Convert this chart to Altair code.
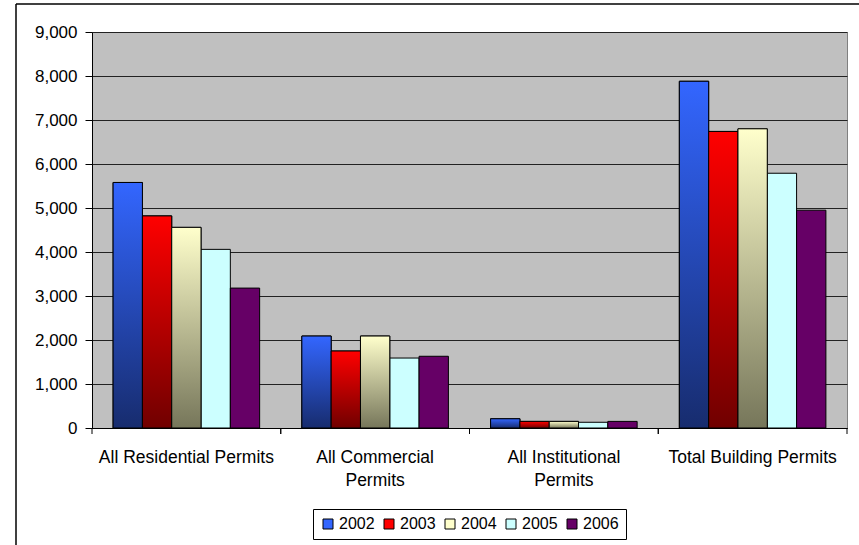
import altair as alt
import pandas as pd

# Building permits issued, by permit type and year
categories = ["All Residential Permits", "All Commercial Permits",
              "All Institutional Permits", "Total Building Permits"]
years = ["2002", "2003", "2004", "2005", "2006"]
residential = [5580, 4820, 4560, 4060, 3180]
commercial = [2090, 1750, 2090, 1590, 1630]
institutional = [210, 150, 150, 130, 150]
total = [7880, 6740, 6800, 5790, 4950]

# Two-line versions of the longer category labels
wrapped = {
    "All Commercial Permits": ["All Commercial", "Permits"],
    "All Institutional Permits": ["All Institutional", "Permits"],
}

# Fill of each series: top colour and bottom colour of the vertical gradient
top_colors = ["#3366FF", "#FF0000", "#FFFFCC", "#CCFFFF", "#660066"]
bottom_colors = ["#172C6E", "#700000", "#76765A", "#CCFFFF", "#660066"]

series = [residential, commercial, institutional, total]
df = pd.DataFrame(
    [{"category": c, "year": y, "permits": vals[i]}
     for c, vals in zip(categories, series)
     for i, y in enumerate(years)]
)

W, H = 755, 396
FONT = "Liberation Sans"

label_expr = " : ".join(
    f"datum.label == '{k}' ? {v!r}" for k, v in wrapped.items()
) + " : datum.label"

x_axis = alt.Axis(
    title=None, labelAngle=0, ticks=False, domainColor="black",
    labelFont=FONT, labelFontSize=17.5, labelColor="black",
    labelPadding=20, labelLineHeight=23, labelExpr=label_expr,
    labelBaseline="top",
)
x_scale = alt.Scale(paddingInner=0, paddingOuter=0)


def x_enc(band_pos=None):
    kw = {} if band_pos is None else {"bandPosition": band_pos}
    return alt.X("category:N", sort=categories, scale=x_scale, axis=x_axis, **kw)


x_off = alt.XOffset("year:N", sort=years,
                    scale=alt.Scale(domain=years, paddingInner=0, paddingOuter=0.72))
y_enc = alt.Y(
    "permits:Q",
    scale=alt.Scale(domain=[0, 9000], nice=False),
    axis=alt.Axis(
        title=None, values=list(range(0, 9001, 1000)), format=",d",
        tickSize=7, tickColor="black", domainColor="black",
        labelFont=FONT, labelFontSize=17, labelColor="black", labelPadding=8,
        gridColor="#222222", gridWidth=1,
    ),
)

base = alt.Chart(df)

bars = base.mark_bar(stroke="black", strokeWidth=1).encode(
    x=x_enc(), xOffset=x_off, y=y_enc,
    color=alt.Color(
        "year:N", sort=years,
        scale=alt.Scale(domain=years, range=top_colors),
        legend=alt.Legend(
            title=None, orient="none", direction="horizontal",
            legendX=221, legendY=477,
            symbolType="square", symbolSize=100, symbolStrokeColor="black",
            symbolStrokeWidth=1, symbolOpacity=1,
            labelFont=FONT, labelFontSize=16, labelColor="black",
            labelOffset=3, columnPadding=6,
            strokeColor="black", fillColor="white", padding=7,
        ),
    ),
)

layers = [bars]
for yr, c_top, c_bot in zip(years, top_colors, bottom_colors):
    if c_top == c_bot:
        continue
    gradient = {
        "gradient": "linear", "x1": 0, "y1": 0, "x2": 0, "y2": 1,
        "stops": [{"offset": 0, "color": c_top}, {"offset": 1, "color": c_bot}],
    }
    layers.append(
        base.transform_filter(alt.datum.year == yr)
        .mark_bar(stroke="black", strokeWidth=1, fill=gradient)
        .encode(x=x_enc(), xOffset=x_off, y=y_enc)
    )

# Category-axis ticks sit on the boundaries between groups
cat_df = pd.DataFrame({"category": categories})
for bp in (0, 1):
    layers.append(
        alt.Chart(cat_df).mark_rule(color="black", strokeWidth=1).encode(
            x=x_enc(bp), y=alt.value(H), y2=alt.value(H + 6)
        )
    )

# Outer chart frame (top and left edges)
frame_data = alt.Data(values=[{}])
layers.append(
    alt.Chart(frame_data).mark_rule(color="black", strokeWidth=1.5).encode(
        x=alt.value(-76), x2=alt.value(W + 40), y=alt.value(-28)
    )
)
layers.append(
    alt.Chart(frame_data).mark_rule(color="black", strokeWidth=1.5).encode(
        x=alt.value(-76), y=alt.value(-28), y2=alt.value(H + 150)
    )
)

chart = (
    alt.layer(*layers)
    .properties(
        width=W, height=H,
        background="white",
        autosize=alt.AutoSizeParams(type="none"),
        padding={"left": 92, "top": 32, "right": 12, "bottom": 117},
    )
    .configure_view(fill="#C0C0C0", stroke="#808080", strokeWidth=1)
)

chart.save("out.html", embed_options={"renderer": "svg", "actions": False})
